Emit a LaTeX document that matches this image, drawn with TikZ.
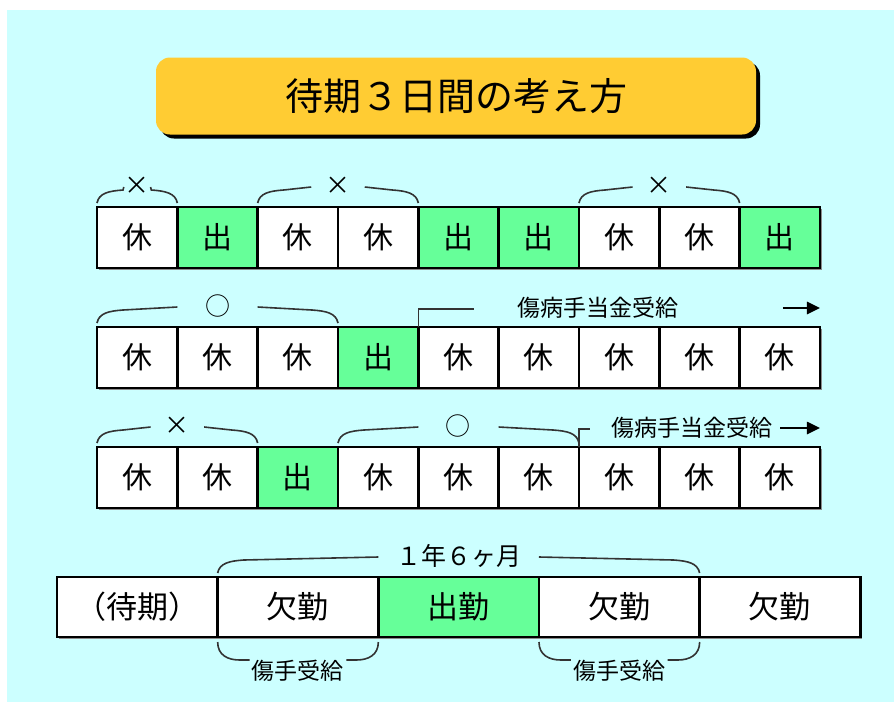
\documentclass[tikz,border=0pt]{standalone}
\usepackage{fontspec}
\newfontfamily\jpfont{Noto Sans CJK JP}
\usetikzlibrary{calc,shadows,arrows.meta}
\definecolor{haikei}{RGB}{204,255,255}
\definecolor{midori}{RGB}{102,255,153}
\definecolor{kiiro}{RGB}{255,204,51}
\tikzset{
  masu/.style={draw, line width=2.4pt, fill=white, minimum width=80.33pt, minimum height=61pt,
    inner sep=0pt, outer sep=0pt, font=\jpfont\fontsize{30}{32}\selectfont,
    drop shadow={shadow xshift=2pt, shadow yshift=-2pt, fill=black!45, opacity=1}},
  shukkin/.style={masu, fill=midori},
  nagai/.style={minimum width=160.67pt, minimum height=60pt, font=\jpfont\fontsize{31}{33}\selectfont},
  taitoru/.style={fill=kiiro, rounded corners=14pt, minimum width=600pt, minimum height=77pt,
    font=\jpfont\fontsize{38}{40}\selectfont,
    drop shadow={shadow xshift=4pt, shadow yshift=-4pt, fill=black, opacity=1}},
  kakko/.style={line width=1.6pt, black!80},
  kigo/.style={font=\jpfont\fontsize{25}{27}\selectfont, inner sep=0pt},
  setsumei/.style={font=\jpfont\fontsize{23}{25}\selectfont, inner sep=0pt},
  yajirushi/.style={line width=2.6pt, -{Triangle[length=13pt,width=12pt]}}
}
% bracket over cells #1..#2 with mark #3, mark node named #4
\newcommand{\uekakko}[4]{
  \coordinate (#4L) at ([yshift=4pt]#1.north west);
  \coordinate (#4R) at ([yshift=4pt]#2.north east);
  \node[kigo] (#4) at ($(#4L)!0.5!(#4R)+(0,17)$) {#3};
  \draw[kakko] (#4L) .. controls ++(2,10) and ++(-14,-1) .. ($(#4L)+(26,13)$) -- ($(#4L)!1/3!(#4R)+(0,16)$);
  \draw[kakko] ($(#4L)!2/3!(#4R)+(0,16)$) -- ($(#4R)+(-26,13)$) .. controls ++(14,-1) and ++(-2,10) .. (#4R);
}
% bracket under cell #1 with text #2, text node named #3
\newcommand{\shitakakko}[3]{
  \coordinate (#3L) at ([yshift=-5pt]#1.south west);
  \coordinate (#3R) at ([yshift=-5pt]#1.south east);
  \node[setsumei] (#3) at ($(#3L)!0.5!(#3R)+(0,-29)$) {#2};
  \draw[kakko] (#3L) .. controls ++(0,-13) and ++(-12,0) .. ($(#3L)+(22,-18)$) -- ++(10,0);
  \draw[kakko] (#3R) .. controls ++(0,-13) and ++(12,0) .. ($(#3R)+(-22,-18)$) -- ++(-10,0);
}
\begin{document}
\begin{tikzpicture}[x=1pt, y=1pt, node distance=80.33pt]
  \useasboundingbox (0,0) rectangle (894,-702);
  \fill[haikei] (7,-10) rectangle (894,-702);
  \node[taitoru] (title) at (456,-96) {待期３日間の考え方};
  % row 1
  \node[masu] (r1c1) at (137.17,-237.5) {休};
  \node[shukkin, right of=r1c1] (r1c2) {出};
  \node[masu, right of=r1c2] (r1c3) {休};
  \node[masu, right of=r1c3] (r1c4) {休};
  \node[shukkin, right of=r1c4] (r1c5) {出};
  \node[shukkin, right of=r1c5] (r1c6) {出};
  \node[masu, right of=r1c6] (r1c7) {休};
  \node[masu, right of=r1c7] (r1c8) {休};
  \node[shukkin, right of=r1c8] (r1c9) {出};
  \uekakko{r1c1}{r1c1}{×}{batsu1}
  \uekakko{r1c3}{r1c4}{×}{batsu2}
  \uekakko{r1c7}{r1c8}{×}{batsu3}
  % row 2
  \node[masu] (r2c1) at (137.17,-357.5) {休};
  \node[masu, right of=r2c1] (r2c2) {休};
  \node[masu, right of=r2c2] (r2c3) {休};
  \node[shukkin, right of=r2c3] (r2c4) {出};
  \node[masu, right of=r2c4] (r2c5) {休};
  \node[masu, right of=r2c5] (r2c6) {休};
  \node[masu, right of=r2c6] (r2c7) {休};
  \node[masu, right of=r2c7] (r2c8) {休};
  \node[masu, right of=r2c8] (r2c9) {休};
  \uekakko{r2c1}{r2c3}{○}{maru1}
  \node[setsumei] (kyufu2) at ([xshift=-21pt,yshift=19pt]r2c7.north) {傷病手当金受給};
  \draw[kakko] (r2c4.north east) |- ++(56,18);
  \coordinate (ya2) at ([xshift=-37pt,yshift=19pt]r2c9.north east);
  \draw[yajirushi] (ya2) -- (ya2 -| r2c9.east);
  % row 3
  \node[masu] (r3c1) at (137.17,-477.5) {休};
  \node[masu, right of=r3c1] (r3c2) {休};
  \node[shukkin, right of=r3c2] (r3c3) {出};
  \node[masu, right of=r3c3] (r3c4) {休};
  \node[masu, right of=r3c4] (r3c5) {休};
  \node[masu, right of=r3c5] (r3c6) {休};
  \node[masu, right of=r3c6] (r3c7) {休};
  \node[masu, right of=r3c7] (r3c8) {休};
  \node[masu, right of=r3c8] (r3c9) {休};
  \uekakko{r3c1}{r3c2}{×}{batsu4}
  \uekakko{r3c4}{r3c6}{○}{maru2}
  \node[setsumei] (kyufu3) at ([xshift=-7pt,yshift=19pt]r3c8.north) {傷病手当金受給};
  \draw[kakko] (r3c6.north east) |- ++(11,18);
  \draw[yajirushi] ([xshift=7pt]kyufu3.east) -- (kyufu3.east -| r3c9.east);
  % row 4
  \node[masu, nagai] (r4c1) at (137.33,-607) {（待期）};
  \node[masu, nagai, right of=r4c1, xshift=80.33pt] (r4c2) {欠勤};
  \node[shukkin, nagai, right of=r4c2, xshift=80.33pt] (r4c3) {出勤};
  \node[masu, nagai, right of=r4c3, xshift=80.33pt] (r4c4) {欠勤};
  \node[masu, nagai, right of=r4c4, xshift=80.33pt] (r4c5) {欠勤};
  \uekakko{r4c2}{r4c4}{１年６ヶ月}{kikan}
  \shitakakko{r4c2}{傷手受給}{jukyu1}
  \shitakakko{r4c4}{傷手受給}{jukyu2}
\end{tikzpicture}
\end{document}
